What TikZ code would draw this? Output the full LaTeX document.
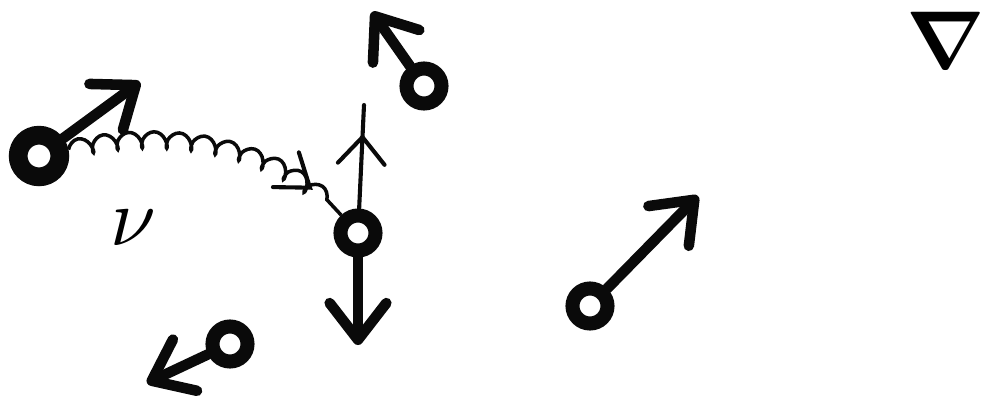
\documentclass[tikz,border=0pt]{standalone}
\usepackage{amsmath,amssymb}
\usepackage{tikz}
\usetikzlibrary{arrows.meta,decorations.pathmorphing,decorations.markings,calc}
\definecolor{sketchink}{RGB}{10,10,10}

\tikzset{
  particle/.style={circle, draw=sketchink, line width=12pt, minimum size=1.05cm, inner sep=0pt},
  bigparticle/.style={particle, line width=16pt, minimum size=1.25cm},
  vec/.style={draw=sketchink, line width=9pt, line cap=round, line join=round,
    -{Straight Barb[length=1.1cm, width=1.7cm, line cap=round, line join=round]}},
  spring/.style={draw=sketchink, line width=3pt, decorate,
    decoration={coil, amplitude=0.25cm, segment length=0.75cm, aspect=0.6}},
  springarrow/.style={postaction={decorate}, decoration={markings,
    mark=at position 0.87 with {\arrow[sketchink, line width=3.5pt]{Straight Barb[length=0.9cm, width=1.3cm, line cap=round]}}}},
  thinvec/.style={draw=sketchink, line width=3.5pt, line cap=round, postaction={decorate},
    decoration={markings, mark=at position 0.72 with {\arrow[sketchink, line width=3.5pt]{Straight Barb[length=0.8cm, width=1.4cm, line cap=round]}}}}
}

\begin{document}
\begin{tikzpicture}[x=0.03cm, y=-0.03cm]
  \useasboundingbox (0,0) rectangle (998,408);

  % particles
  \node[bigparticle] (pA) at (39,156) {};
  \node[particle] (pB) at (424,86) {};
  \node[particle] (pC) at (358,233) {};
  \node[particle] (pD) at (230,344) {};
  \node[particle] (pE) at (590,306) {};

  % ends of the vectors
  \coordinate (tipA) at (140,82);
  \coordinate (tipB) at (372,12);
  \coordinate (tipC) at (358,345);
  \coordinate (tipD) at (147,383);
  \coordinate (tipE) at (698,196);
  \coordinate (cTop) at (364,105);

  \draw[vec] (pA) -- (tipA);
  \draw[vec] (pB) -- (tipB);
  \draw[vec] (pC) -- (tipC);
  \draw[vec] (pD) -- (tipD);
  \draw[vec] (pE) -- (tipE);

  % spring between A and C
  \draw[spring] (pA) .. controls (180,125) and (280,150) .. (pC);
  \path[springarrow] (pA) .. controls (180,125) and (280,150) .. (pC);
  \draw[thinvec] (pC) -- (cTop);

  \node (nu) at (133,228) {\scalebox{7}{$\nu$}};
  \node[anchor=north, inner sep=0pt] (nabla) at (946,12) {\scalebox{7}{\boldmath$\nabla$}};
\end{tikzpicture}
\end{document}
